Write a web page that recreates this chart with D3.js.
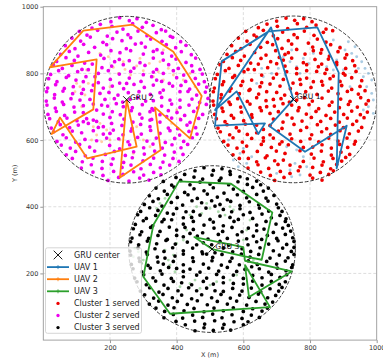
<!DOCTYPE html>
<html>
<head>
<meta charset="utf-8">
<script src="https://cdn.jsdelivr.net/npm/d3@7"></script>
<style>
  body { margin: 0; background: #fff; }
  svg { font-family: 'DejaVu Sans', sans-serif; }
</style>
</head>
<body>
<svg id="vis" width="383" height="358"></svg>
<script>
'use strict';

// GRU centres (cluster 1, 2, 3) and coverage radius
var gruCenters = [[750, 722], [250, 721], [506, 273]];
var gruLabels = ['GRU 1', 'GRU 2', 'GRU 3'];
var gruRadius = 250;

var uav1Path = [[750,722],[683,938],[515,690],[580,746],[645,618],[665,650],[515,643],[535,836],[676,926],[822,938],[886,802],[880,515],[910,643],[785,565],[678,642],[750,722]];
var uav2Path = [[250,721],[280,580],[132,545],[50,668],[25,618],[150,692],[160,842],[20,818],[120,928],[268,946],[390,865],[475,732],[440,605],[335,698],[352,570],[230,488],[250,721]];
var uav3Path = [[506,273],[453,309],[600,279],[605,238],[745,206],[617,129],[605,225],[680,99],[380,79],[300,190],[330,345],[407,476],[563,469],[687,383],[655,241],[600,252],[506,273]];

var served1 = [
  [700,957],[728,966],[754,959],[781,964],[806,955],
  [645,937],[671,948],[702,941],[733,934],[762,949],[790,938],[818,945],[848,933],
  [607,926],[632,915],[660,929],[690,913],[718,924],[752,916],[783,927],[812,914],[840,923],[868,928],
  [585,906],[611,897],[640,909],[672,893],[703,904],[735,898],[762,907],[795,891],[822,903],[848,894],
  [565,883],[593,874],[620,887],[652,878],[688,886],[716,875],[745,888],[808,879],[835,871],[862,886],[890,877],
  [551,857],[577,866],[603,852],[634,863],[668,855],[697,868],[725,857],[832,861],[858,852],[884,865],[910,856],
  [540,836],[567,847],[592,839],[622,831],[653,845],[682,835],[708,848],[855,843],[880,833],[905,846],[928,838],
  [530,826],[557,815],[585,824],[614,812],[645,828],[673,817],[700,829],[880,826],[907,815],[934,823],
  [522,797],[546,808],[574,793],[602,805],[633,811],[700,798],[820,806],[905,795],[938,806],
  [516,784],[541,775],[568,788],[598,776],[720,782],[749,771],[790,786],[835,776],[925,787],[955,778],
  [513,756],[537,766],[563,755],[593,764],[620,752],[710,762],[741,754],[772,767],[803,758],[838,765],[950,761],
  [510,745],[534,736],[559,747],[588,739],[617,749],[646,738],[700,743],[724,735],[787,745],[821,737],[855,747],[884,739],[912,746],[945,738],
  [509,717],[533,726],[557,714],[583,724],[612,716],[640,727],[668,718],[713,724],[738,714],[783,727],[807,717],[836,726],[866,714],[892,723],[920,716],[952,727],[975,718],
  [511,705],[536,696],[561,707],[592,699],[620,708],[650,697],[693,702],[719,709],[767,697],[797,706],[826,694],[858,704],[888,697],[915,707],[942,699],[968,708],
  [514,677],[539,686],[564,674],[594,684],[625,676],[654,688],[705,685],[731,676],[764,688],[789,678],[818,686],[848,674],[874,684],[901,677],[925,687],[951,676],[972,684],
  [519,664],[545,655],[571,666],[601,658],[626,668],[690,663],[719,654],[746,666],[776,657],[804,668],[832,656],[862,665],[888,654],[912,666],[940,657],[962,667],
  [524,636],[551,646],[579,637],[606,648],[680,644],[716,635],[752,647],[790,638],[822,646],[850,634],[876,645],[900,637],[928,647],[955,638],
  [531,625],[559,616],[587,627],[612,617],[680,616],[705,627],[740,618],[772,629],[805,616],[835,625],[862,617],[890,628],[918,619],[945,627],
  [541,596],[569,607],[597,594],[625,605],[660,597],[690,606],[716,595],[800,604],[826,595],[856,606],[884,597],[911,606],[936,596],
  [554,585],[581,576],[654,587],[684,578],[709,588],[808,579],[836,586],[864,576],[889,587],[913,578],[933,588],
  [569,556],[642,566],[671,553],[699,567],[804,558],[834,567],[864,555],[893,564],[919,557],
  [588,545],[640,535],[666,547],[694,538],[812,546],[840,535],[869,545],[895,537],[907,548],
  [614,516],[644,526],[676,515],[704,527],[808,518],[836,525],[862,514],[880,527],
  [652,504],[681,494],[711,506],[800,495],[831,503],[856,497],[870,508],
  [694,479],[722,488],[808,486],[836,480],
  [735,862],[760,872],[785,858],[810,868],[720,840],[745,846],[780,832],[815,842],[835,828],
  [725,822],[760,815],[790,826],[825,820],[850,812],[655,795],[730,805],[760,799],[790,808],[845,800],[870,792],
  [625,780],[655,772],[690,786],[770,782],[810,775],[860,784],[890,776],[650,760],[680,768],[865,756],[895,764],[925,752],
  [670,745],[760,740],[965,748],[690,722],[760,720],[670,700],[745,705],[680,680],[900,800],
  [640,645],[660,632],[640,622],[660,607],[745,604],[772,596],[610,582],[735,586],[780,578],
  [600,565],[725,560],[770,568],[615,545],[720,540],[780,536],[740,525],[770,520],[740,500],[765,508]
];

var served2 = [
  [203,955],[229,967],[258,958],[281,964],[309,953],
  [146,936],[171,947],[206,941],[239,933],[268,949],[297,938],[329,944],[354,931],
  [108,926],[131,915],[163,929],[192,912],[221,924],[254,916],[284,927],[311,913],[339,922],[367,927],[381,911],
  [86,906],[112,897],[141,909],[179,893],[208,904],[236,898],[262,907],[294,891],[322,903],[356,896],[388,908],[412,895],
  [66,883],[95,874],[121,887],[154,878],[190,886],[249,874],[276,888],[306,879],[341,871],[369,886],[397,877],[428,884],
  [52,857],[78,866],[104,852],[136,863],[172,855],[203,868],[357,861],[385,852],[414,865],[444,856],
  [40,836],[68,847],[93,839],[124,831],[182,845],[214,835],[398,843],[428,833],[457,846],
  [30,826],[57,815],[86,824],[116,812],[147,828],[176,817],[376,826],[405,815],[445,823],[470,812],
  [22,797],[46,808],[76,793],[103,805],[135,811],[228,798],[262,806],[421,795],[448,806],[477,798],
  [16,784],[41,775],[69,788],[201,782],[229,771],[258,786],[293,776],[400,787],[427,776],[456,785],[483,775],
  [13,756],[37,766],[63,755],[207,762],[241,754],[272,767],[303,758],[413,764],[439,753],[466,768],[490,759],
  [10,745],[34,736],[59,747],[88,739],[197,743],[224,735],[287,745],[321,737],[434,746],[460,735],[486,744],
  [9,717],[33,726],[57,714],[83,724],[213,724],[238,714],[283,727],[307,717],[446,723],[469,713],[494,725],
  [11,705],[36,696],[61,707],[92,699],[193,702],[219,709],[267,697],[297,706],[326,694],[437,705],[463,696],[489,707],
  [14,677],[39,686],[64,674],[94,684],[207,685],[231,676],[264,688],[289,678],[401,683],[424,674],[451,686],[478,677],
  [19,664],[45,655],[71,666],[101,658],[242,663],[269,654],[296,666],[412,661],[440,653],[466,665],
  [24,636],[51,646],[79,637],[236,644],[266,635],[292,647],[403,634],[431,645],[457,637],
  [31,625],[59,616],[87,627],[239,616],[263,627],[294,618],[322,629],[409,615],[437,626],[461,618],
  [41,596],[69,607],[97,594],[226,604],[254,595],[283,608],[311,597],[339,606],[366,593],[394,605],[421,596],[447,607],
  [54,585],[81,576],[109,587],[139,579],[199,584],[229,574],[259,586],[301,577],[329,588],[357,576],[386,586],[413,577],[433,587],
  [69,556],[97,566],[126,553],[154,567],[186,557],[213,566],[246,554],[271,565],[303,558],[334,567],[364,555],[393,564],[419,557],
  [87,545],[117,535],[149,546],[177,536],[209,544],[241,533],[267,547],[299,538],[331,546],[359,534],[389,545],[407,536],
  [114,516],[144,526],[176,515],[204,527],[236,518],[263,525],[293,514],[321,527],[351,517],[379,525],
  [149,504],[179,494],[211,506],[239,497],[271,505],[301,495],[331,503],[353,496],
  [194,479],[226,488],[257,477],[289,486],[317,480],
  [120,775],[155,790],[170,740],[140,722],[160,690],[120,655],[180,640],[200,620],[340,780],
  [360,750],[330,690],[370,670],[350,620],[320,660],[380,720],[150,660],[250,770],[175,705],
  [230,862],[262,868],[300,858],[330,866],[228,842],[258,838],[290,832],[330,846],[360,840],
  [205,822],[240,826],[272,816],[305,824],[340,812],[165,800],[195,808],[300,796],[330,804],[360,800],[390,808],
  [98,780],[128,790],[165,772],[325,790],[355,776],[378,770],[90,760],[120,752],[150,765],[180,756],[330,765],[388,762],
  [115,740],[145,748],[255,742],[350,742],[410,745],[110,720],[185,722],[260,722],[330,718],[355,728],[410,720],
  [120,703],[150,708],[240,700],[355,702],[385,708],[410,698],[120,682],[180,678],[320,685],[350,676],[375,688],
  [130,664],[160,656],[200,668],[325,662],[350,654],[385,666],[105,645],[135,650],[165,638],[205,650],[320,640],[375,636],
  [115,622],[150,628],[180,618],[210,630],[380,628],[125,602],[160,598],[190,606]
];

var served3 = [
  [455,508],[482,517],[510,509],[536,514],[560,506],
  [398,488],[424,497],[452,489],[478,483],[506,495],[533,486],[561,497],[590,490],[612,484],
  [360,476],[385,465],[412,479],[440,466],[470,474],[500,468],[528,479],[556,466],[584,475],[612,467],[640,477],[652,466],
  [338,456],[363,447],[392,459],[424,443],[452,454],[482,448],[510,457],[542,441],[570,453],[600,446],[628,458],[660,447],[675,456],
  [318,433],[345,424],[372,437],[402,428],[434,436],[462,425],[492,438],[522,429],[552,421],[582,436],[610,427],[640,437],[668,426],[692,434],
  [303,407],[329,416],[356,402],[384,413],[418,405],[446,418],[530,407],[562,416],[590,404],[618,415],[646,406],[674,417],[700,408],
  [292,386],[319,397],[344,389],[372,381],[400,395],[428,385],[590,394],[620,383],[648,396],[676,387],[705,397],[716,386],
  [283,376],[309,365],[337,374],[362,362],[390,378],[420,367],[600,376],[628,365],[656,378],[684,367],[710,374],[728,364],
  [276,347],[300,358],[328,343],[356,355],[385,361],[420,348],[450,356],[482,345],[510,354],[540,343],[572,356],[640,345],[668,356],[698,348],[726,356],[735,344],
  [270,334],[295,325],[322,338],[350,326],[378,339],[450,332],[478,322],[512,336],[538,326],[566,338],[596,325],[662,333],[690,323],[718,336],[742,327],
  [266,306],[290,316],[316,305],[344,314],[372,302],[400,314],[462,312],[494,303],[525,317],[552,305],[582,316],[610,304],[672,314],[700,305],[726,317],[748,307],
  [262,295],[286,286],[312,297],[340,289],[368,299],[396,288],[432,294],[460,286],[530,296],[556,285],[585,297],[614,286],[640,295],[676,288],[704,298],[730,287],[752,296],
  [260,267],[284,276],[309,264],[335,274],[362,266],[388,277],[420,268],[448,276],[476,265],[540,276],[568,265],[596,274],[622,266],[650,277],[690,268],[718,276],[744,266],[752,278],
  [262,255],[287,246],[312,257],[342,249],[420,258],[448,247],[478,259],[508,248],[536,257],[566,246],[594,258],[620,249],[646,257],[680,246],[708,255],[734,247],[752,257],
  [264,227],[289,236],[314,224],[344,234],[420,226],[450,236],[480,228],[506,238],[534,225],[560,236],[588,226],[615,238],[642,227],[670,236],[700,228],[726,237],[748,226],
  [269,214],[295,205],[321,216],[351,208],[376,218],[440,213],[470,204],[496,216],[526,207],[552,218],[580,206],[648,214],[676,204],[702,216],[728,208],[745,218],
  [274,186],[301,196],[329,187],[356,198],[384,185],[420,190],[460,195],[490,186],[520,197],[600,185],[628,194],[656,187],[684,197],[710,188],[730,196],
  [281,175],[309,166],[337,177],[362,165],[390,176],[600,168],[628,177],[656,165],[684,176],[708,167],[726,175],
  [291,147],[319,157],[347,144],[374,155],[404,148],[436,157],[540,146],[568,155],[596,147],[624,156],[652,145],[680,154],[706,147],[716,158],
  [304,136],[331,126],[359,137],[387,127],[415,135],[445,124],[475,136],[505,127],[533,137],[561,126],[589,135],[617,128],[645,138],[673,127],[697,134],
  [318,108],[346,117],[374,105],[402,116],[432,107],[462,118],[492,106],[522,116],[552,108],[580,117],[610,105],[638,116],[665,108],[688,114],
  [338,96],[364,86],[392,97],[422,88],[452,95],[482,85],[512,96],[540,88],[570,97],[600,86],[628,94],[656,87],[672,96],
  [362,67],[390,77],[418,66],[448,75],[478,68],[508,78],[536,67],[566,76],[596,65],[624,75],[648,68],
  [398,56],[426,46],[454,57],[484,48],[514,58],[542,47],[572,55],[600,46],[614,55],
  [455,28],[482,37],[510,29],[538,36],[562,30],
  [475,412],[505,418],[488,396],[515,402],[450,386],[540,392],[565,385],[445,368],[470,375],[500,362],[530,372],[560,368],[585,362],
  [400,330],[425,338],[615,336],[640,328],[420,310],[440,320],[630,312],[655,302],
  [480,292],[505,286],[515,262],[490,258],[365,246],[395,252],[360,228],[390,236],[400,215],[420,206],[605,212],[625,220],
  [540,188],[570,195],[415,172],[445,166],[480,176],[510,168],[540,172],[570,170],[460,148],[490,156],[515,148]
];

var unserved1 = [
  [870,900],[890,880],[905,870],[925,860],[940,850],[955,835],[965,815],[975,800],[960,790],[985,780],
  [970,760],[985,740],[990,720],[975,700],[960,690],[990,680],[915,895],[935,880],[880,840],[900,810],
  [945,815],[925,785],[870,810],[895,760],[920,760],[850,820],
  [720,850],[740,835],[760,820],[780,845],[705,815],[770,800],[795,830],[660,790],[680,770],[640,770],
  [725,795],[810,860],[745,870],[655,815],[685,800],
  [740,510],[755,530],[770,495],[780,550],[760,570],[730,580],[790,520],[745,490],[720,540],[700,500],
  [570,540],[590,560],[610,530],[625,550],[600,575],[585,520],[555,600]
];

var unserved2 = [
  [225,800],[245,812],[262,795],[280,822],[300,808],[318,830],[290,845],[240,835],[210,818],
  [95,745],[110,760],[125,735],[100,770],[135,770],
  [145,600],[160,615],[175,595],[190,630],[150,640],[170,650],[200,600],
  [330,790],[345,805],[360,780],[375,815],[350,835],[390,795],
  [400,690],[410,665],[385,650],[300,600],[320,580],
  [170,860],[195,850],[130,810],[115,700],[200,760],[360,870],
  [420,780],[440,800],[455,760],[270,560],[230,600],[280,640]
];

var unserved3 = [
  [475,380],[500,395],[525,385],[545,375],[490,410],[460,400],[440,375],[560,400],
  [375,240],[390,255],[380,225],[395,205],[365,270],[400,290],
  [410,160],[440,170],[470,155],[500,165],[520,175],[560,180],[580,195],[455,180],
  [270,250],[285,265],[300,240],[275,275],[295,230],
  [350,410],[365,425],[340,395],
  [610,330],[620,360],[600,300],[630,240],[615,210],[570,390],
  [430,330],[420,300]
];

var xTicks = [200, 400, 600, 800, 1000];
var yTicks = [200, 400, 600, 800, 1000];
var legendLabels = ['GRU center', 'UAV 1', 'UAV 2', 'UAV 3', 'Cluster 1 served', 'Cluster 2 served', 'Cluster 3 served'];

var uavColors = ['#1f77b4', '#ff7f0e', '#2ca02c'];
var servedColors = ['#ee0000', '#ee00ee', '#000000'];

var svg = d3.select('#vis');
var margin = {left: 43.3, top: 6.7};
var size = 333.4;

var x = d3.scaleLinear().domain([0, 1000]).range([margin.left, margin.left + size]);
var y = d3.scaleLinear().domain([0, 1000]).range([margin.top + size, margin.top]);

svg.append('defs').append('clipPath').attr('id', 'plotclip')
    .append('rect')
    .attr('x', margin.left).attr('y', margin.top)
    .attr('width', size).attr('height', size);

//grid
var grid = svg.append('g').attr('class', 'grid');
grid.selectAll('.gx').data(xTicks.slice(0, 4)).enter().append('line')
    .attr('x1', function (d) { return x(d); })
    .attr('x2', function (d) { return x(d); })
    .attr('y1', y(0)).attr('y2', y(1000))
    .attr('stroke', '#d0d0d0').attr('stroke-width', 0.7).attr('stroke-dasharray', '3,2');
grid.selectAll('.gy').data(yTicks.slice(0, 4)).enter().append('line')
    .attr('y1', function (d) { return y(d); })
    .attr('y2', function (d) { return y(d); })
    .attr('x1', x(0)).attr('x2', x(1000))
    .attr('stroke', '#d0d0d0').attr('stroke-width', 0.7).attr('stroke-dasharray', '3,2');

var plot = svg.append('g').attr('clip-path', 'url(#plotclip)');

//unserved users (faded)
[unserved1, unserved2, unserved3].forEach(function (pts, i) {
    plot.append('g').selectAll('circle').data(pts).enter().append('circle')
        .attr('cx', function (d) { return x(d[0]); })
        .attr('cy', function (d) { return y(d[1]); })
        .attr('r', 1.45)
        .attr('fill', uavColors[i])
        .attr('fill-opacity', 0.38);
});

//served users
[served1, served2, served3].forEach(function (pts, i) {
    plot.append('g').selectAll('circle').data(pts).enter().append('circle')
        .attr('cx', function (d) { return x(d[0]); })
        .attr('cy', function (d) { return y(d[1]); })
        .attr('r', 1.85)
        .attr('fill', servedColors[i]);
});

//coverage circles
plot.append('g').selectAll('circle').data(gruCenters).enter().append('circle')
    .attr('cx', function (d) { return x(d[0]); })
    .attr('cy', function (d) { return y(d[1]); })
    .attr('r', x(gruRadius) - x(0))
    .attr('fill', 'none')
    .attr('stroke', '#222')
    .attr('stroke-width', 0.9)
    .attr('stroke-dasharray', '3.7,1.8');

//uav paths
var line = d3.line()
    .x(function (d) { return x(d[0]); })
    .y(function (d) { return y(d[1]); });

[uav1Path, uav2Path, uav3Path].forEach(function (path, i) {
    plot.append('path')
        .attr('d', line(path))
        .attr('fill', 'none')
        .attr('stroke', uavColors[i])
        .attr('stroke-width', 1.8)
        .attr('stroke-linejoin', 'round');
});

function crossMark(g, cx, cy, h) {
    g.append('path')
        .attr('d', 'M' + (cx - h) + ',' + (cy - h) + 'L' + (cx + h) + ',' + (cy + h) +
            'M' + (cx - h) + ',' + (cy + h) + 'L' + (cx + h) + ',' + (cy - h))
        .attr('stroke', '#000').attr('stroke-width', 0.9).attr('fill', 'none');
}

//gru centres
gruCenters.forEach(function (c, i) {
    crossMark(plot, x(c[0]), y(c[1]), 3.5);
    plot.append('text')
        .attr('x', x(c[0] + 10))
        .attr('y', y(c[1]))
        .attr('font-size', 7.6)
        .attr('fill', '#111')
        .text(gruLabels[i]);
});

//axes frame
svg.append('rect')
    .attr('x', margin.left).attr('y', margin.top)
    .attr('width', size).attr('height', size)
    .attr('fill', 'none').attr('stroke', '#999').attr('stroke-width', 0.9);

var xAxis = svg.append('g')
    .attr('transform', 'translate(0,' + (margin.top + size) + ')')
    .call(d3.axisBottom(x).tickValues(xTicks).tickFormat(d3.format('d')).tickSize(3).tickPadding(2));
var yAxis = svg.append('g')
    .attr('transform', 'translate(' + margin.left + ',0)')
    .call(d3.axisLeft(y).tickValues(yTicks).tickFormat(d3.format('d')).tickSize(3).tickPadding(2));
[xAxis, yAxis].forEach(function (a) {
    a.select('.domain').remove();
    a.selectAll('.tick line').attr('stroke', '#999');
    a.selectAll('.tick text').attr('font-size', 6.5).attr('fill', '#333')
        .attr('font-family', 'DejaVu Sans, sans-serif');
});

svg.append('text')
    .attr('x', x(500)).attr('y', 357)
    .attr('text-anchor', 'middle').attr('font-size', 6.5).attr('fill', '#333')
    .text('X (m)');
svg.append('text')
    .attr('transform', 'translate(17,' + y(500) + ') rotate(-90)')
    .attr('text-anchor', 'middle').attr('font-size', 6.5).attr('fill', '#333')
    .text('Y (m)');

//legend
var legend = svg.append('g');
legend.append('rect')
    .attr('x', 45.5).attr('y', 247.8)
    .attr('width', 96).attr('height', 85.5)
    .attr('rx', 2)
    .attr('fill', '#fff').attr('fill-opacity', 0.8)
    .attr('stroke', '#ccc').attr('stroke-width', 0.8);

legendLabels.forEach(function (lab, i) {
    var ly = 255 + i * 12.1;
    if (i === 0) {
        crossMark(legend, 58, ly, 4.3);
    } else if (i <= 3) {
        legend.append('line')
            .attr('x1', 47).attr('x2', 69).attr('y1', ly).attr('y2', ly)
            .attr('stroke', uavColors[i - 1]).attr('stroke-width', 1.8);
        legend.append('path')
            .attr('d', 'M56,' + ly + 'h4M58,' + (ly - 2) + 'v4')
            .attr('stroke', uavColors[i - 1]).attr('stroke-width', 0.8);
    } else {
        legend.append('circle')
            .attr('cx', 58).attr('cy', ly).attr('r', 1.65)
            .attr('fill', servedColors[i - 4]);
    }
    legend.append('text')
        .attr('x', 74).attr('y', ly)
        .attr('dy', '0.35em')
        .attr('font-size', 8)
        .attr('fill', '#222')
        .text(lab);
});
</script>
</body>
</html>
